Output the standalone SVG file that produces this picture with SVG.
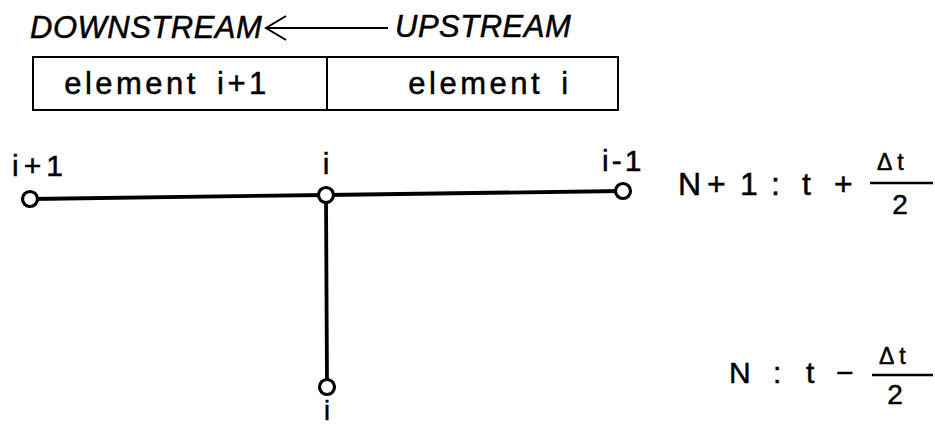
<svg xmlns="http://www.w3.org/2000/svg" width="935" height="427" viewBox="0 0 935 427">
<style>
text { font-family: "Liberation Sans", Arial, sans-serif; fill: #000; stroke: #000; stroke-width: 0.5px; }
.title { font-size: 31px; font-style: italic; letter-spacing: 0.5px; }
.elem { font-size: 31px; letter-spacing: 3.5px; word-spacing: 6px; }
.lbl { font-size: 30px; }
.eq { font-size: 32px; }
.eqs { font-size: 30px; }
.num { font-size: 23px; letter-spacing: 5px; }
.den { font-size: 28px; }
.box { fill: none; stroke: #000; stroke-width: 2; }
.conn { stroke: #000; stroke-width: 3.8; fill: none; stroke-linecap: round; }
.bar { stroke: #000; stroke-width: 2.5; }
.node circle { fill: #fff; stroke: #000; stroke-width: 3.2; }
.arrow { fill: none; stroke: #000; stroke-width: 2; }
</style>
<rect width="935" height="427" fill="#fff"/>

<g id="direction">
  <text class="title" x="30" y="38">DOWNSTREAM</text>
  <line class="arrow" x1="266" y1="28" x2="388" y2="28"/>
  <polyline class="arrow" points="286,16 266,28 286,40"/>
  <text class="title" x="395" y="37">UPSTREAM</text>
</g>

<g id="element-i-plus-1">
  <rect class="box" x="33" y="57" width="294" height="53"/>
  <text class="elem" x="167" y="94" text-anchor="middle">element i+1</text>
</g>
<g id="element-i">
  <rect class="box" x="327" y="57" width="291" height="53"/>
  <text class="elem" x="490" y="94" text-anchor="middle">element i</text>
</g>

<g id="connectors">
  <line class="conn" x1="30" y1="199" x2="326" y2="195"/>
  <line class="conn" x1="326" y1="195" x2="623" y2="191"/>
  <line class="conn" x1="326" y1="195" x2="327" y2="387"/>
</g>

<g id="node-i-plus-1" class="node">
  <circle cx="30" cy="199" r="7.5"/>
  <text class="lbl" x="12" y="176" style="letter-spacing:5px">i+1</text>
</g>
<g id="node-i-top" class="node">
  <circle cx="326" cy="195" r="7.5"/>
  <text class="lbl" x="326" y="174" text-anchor="middle">i</text>
</g>
<g id="node-i-minus-1" class="node">
  <circle cx="623" cy="191" r="7.5"/>
  <text class="lbl" x="602" y="171" style="letter-spacing:3px">i-1</text>
</g>
<g id="node-i-bottom" class="node">
  <circle cx="327" cy="387" r="7.5"/>
  <text class="lbl" x="327" y="420" text-anchor="middle" style="font-size:27px">i</text>
</g>

<g id="level-n-plus-1">
  <text class="eq" y="195"><tspan x="678">N</tspan><tspan x="707">+</tspan><tspan x="740">1</tspan><tspan x="771">:</tspan><tspan x="802">t</tspan><tspan x="834">+</tspan></text>
  <line class="bar" x1="870" y1="183" x2="933" y2="183"/>
  <text class="num" x="877" y="170">Δt</text>
  <text class="den" x="900" y="214" text-anchor="middle">2</text>
</g>

<g id="level-n">
  <text class="eqs" y="383"><tspan x="729">N</tspan><tspan x="773">:</tspan><tspan x="806">t</tspan><tspan x="836">−</tspan></text>
  <line class="bar" x1="872" y1="375" x2="933" y2="375"/>
  <text class="num" x="879" y="364">Δt</text>
  <text class="den" x="895" y="404" text-anchor="middle">2</text>
</g>
</svg>
